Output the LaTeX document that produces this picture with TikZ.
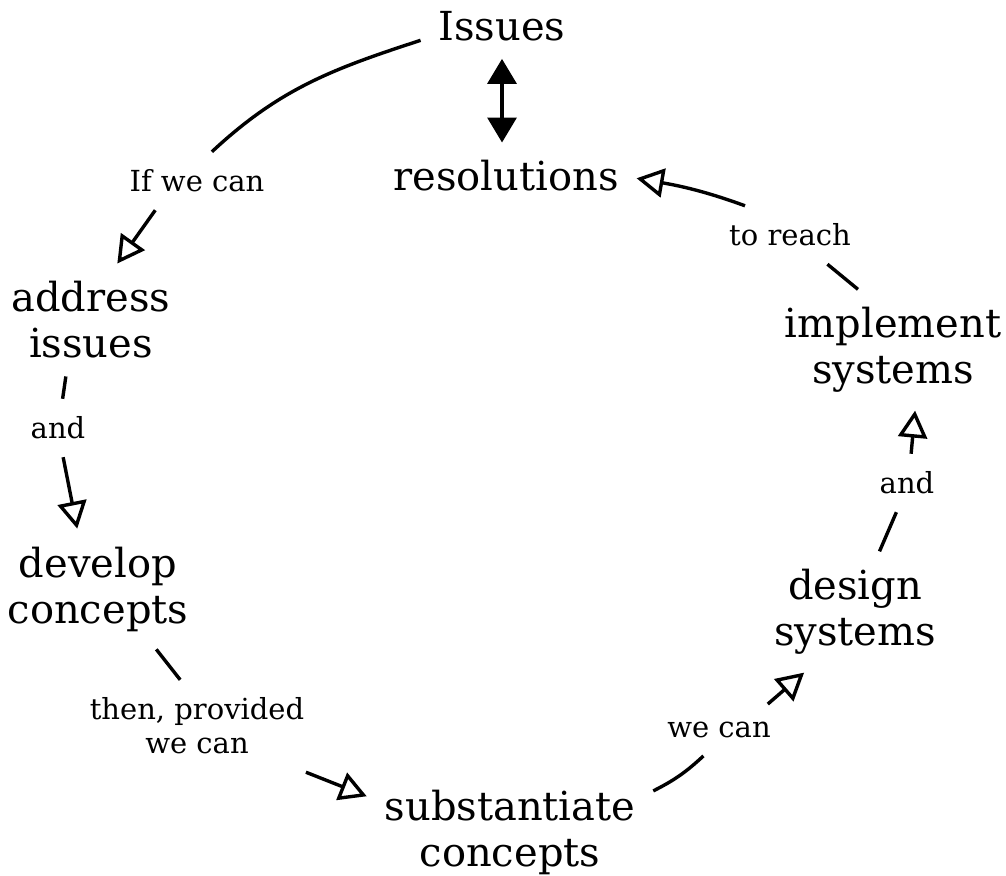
\documentclass[tikz,border=0pt]{standalone}
\usepackage{fontspec}
\setmainfont{DejaVu Serif}
\usetikzlibrary{arrows.meta}
\begin{document}
\begin{tikzpicture}[x=1pt,y=1pt,
 big/.style={font=\fontsize{40}{46}\selectfont, align=center, inner sep=0pt, outer sep=18pt},
 lbl/.style={font=\fontsize{29}{34}\selectfont, align=center, inner sep=0pt, outer sep=18pt},
 conn/.style={line width=3.4pt},
 arr/.style={conn, -{Triangle[open,length=27pt,width=29pt]}},
 ]
\useasboundingbox[fill=white] (0,0) rectangle (1006,875);
\node[big] (Issues) at (502,849) {Issues};
\node[big] (resolutions) at (506,699) {resolutions};
\node[lbl] (ifwecan) at (197,694) {If we can};
\node[big] (address) at (91,555) {address\\issues};
\node[lbl] (andL) at (58,447) {and};
\node[big] (develop) at (98,286) {develop\\concepts};
\node[lbl] (then) at (197,149) {then, provided\\we can};
\node[big] (subst) at (510,43) {substantiate\\concepts};
\node[lbl] (wecanR) at (719,145) {we can};
\node[big] (design) at (855,263) {design\\systems};
\node[lbl] (andR) at (907,392) {and};
\node[big] (implement) at (893,525) {implement\\systems};
\node[lbl] (toreach) at (790,640) {to reach};

\draw[conn] (Issues.190) to[out=198,in=43] (ifwecan.63);
\draw[arr] (ifwecan.215) -- (address.65);
\draw[conn] (address.246) -- (andL.81);
\draw[arr] (andL.280) -- (develop.109);
\draw[conn] (develop.314) -- (then.110);
\draw[arr] (then.337) -- (subst.166);
\draw[conn] (subst.16) to[bend right=8] (wecanR.239);
\draw[arr] (wecanR.28) -- (design.230);
\draw[conn] (design.68) -- (andR.250);
\draw[arr] (andR.82) -- (implement.290);
\draw[conn] (implement.120) -- (toreach.322);
\draw[arr] (toreach.147) to[out=160,in=-10] (resolutions.359);
\draw[line width=3.4pt, {Triangle[length=25pt,width=29pt]}-{Triangle[length=25pt,width=29pt]}] (Issues.south) -- (Issues.south |- resolutions.north);
\end{tikzpicture}
\end{document}
